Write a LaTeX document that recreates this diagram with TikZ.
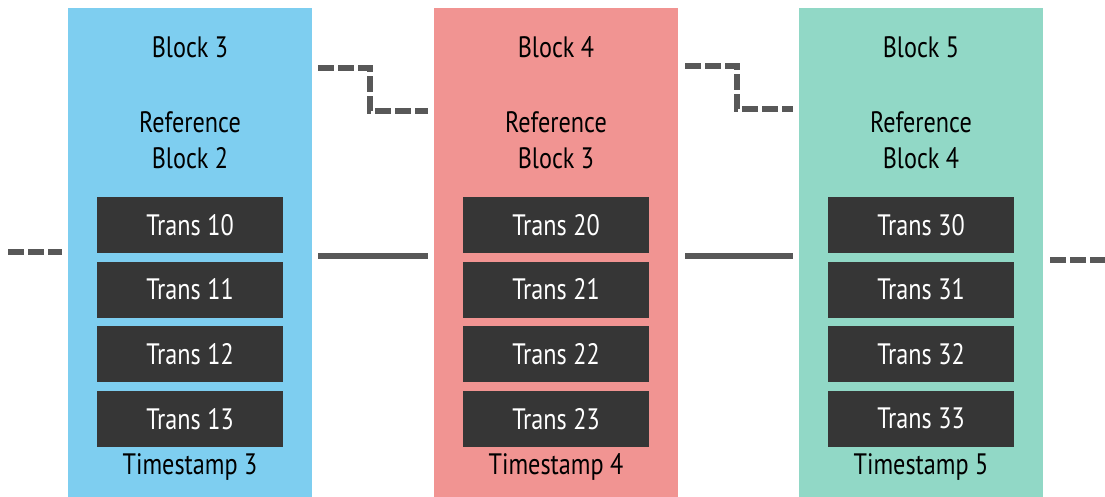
\documentclass[tikz,border=0pt]{standalone}
\usepackage{fontspec}
\setmainfont{PT Sans}[FakeStretch=0.82]
\usepackage{tikz}
\usetikzlibrary{arrows.meta, positioning}

\definecolor{chainblue}{RGB}{126,206,240}
\definecolor{chainred}{RGB}{241,148,146}
\definecolor{chaingreen}{RGB}{145,216,198}
\definecolor{txbox}{RGB}{54,54,54}
\definecolor{linkgrey}{RGB}{88,88,88}

\begin{document}
\begin{tikzpicture}[
        x=0.025cm, y=-0.025cm,
        node distance=0.2cm,
        every node/.style={font=\fontsize{21}{25.6}\selectfont},
        block/.style={rectangle, minimum width=6.1cm, minimum height=12.225cm, inner sep=0pt},
        tx/.style={rectangle, fill=txbox, text=white, minimum width=4.65cm, minimum height=1.4cm, inner sep=0pt},
        label/.style={align=center, inner sep=0pt},
        link/.style={draw=linkgrey, line width=0.15cm},
        dlink/.style={link, dash pattern=on 0.4cm off 0.1cm}
    ]
        \useasboundingbox (0,0) rectangle (1105,497);

        % the three blocks
        \node[block, fill=chainblue] (b3) at (190,252.5) {};
        \node[block, fill=chainred] (b4) at (556,252.5) {};
        \node[block, fill=chaingreen] (b5) at (921,252.5) {};

        % block 3
        \node[label] (b3name) at (190,47) {Block 3};
        \node[label] (b3ref) at (190,140) {Reference\\Block 2};
        \node[tx] (t10) at (190,225) {Trans 10};
        \node[tx, below=of t10] (t11) {Trans 11};
        \node[tx, below=of t11] (t12) {Trans 12};
        \node[tx, below=of t12] (t13) {Trans 13};
        \node[label] (b3time) at (190,467) {Timestamp 3};

        % block 4
        \node[label] (b4name) at (556,47) {Block 4};
        \node[label] (b4ref) at (556,140) {Reference\\Block 3};
        \node[tx] (t20) at (556,225) {Trans 20};
        \node[tx, below=of t20] (t21) {Trans 21};
        \node[tx, below=of t21] (t22) {Trans 22};
        \node[tx, below=of t22] (t23) {Trans 23};
        \node[label] (b4time) at (556,467) {Timestamp 4};

        % block 5
        \node[label] (b5name) at (921,47) {Block 5};
        \node[label] (b5ref) at (921,140) {Reference\\Block 4};
        \node[tx] (t30) at (921,225) {Trans 30};
        \node[tx, below=of t30] (t31) {Trans 31};
        \node[tx, below=of t31] (t32) {Trans 32};
        \node[tx, below=of t32] (t33) {Trans 33};
        \node[label] (b5time) at (921,467) {Timestamp 5};

        % chain links
        \coordinate (prev) at (8,252);
        \coordinate (next) at (1105,260);
        \coordinate (hi34) at (370,68);
        \coordinate (lo34) at (370,111);
        \coordinate (hi45) at (737,66);
        \coordinate (lo45) at (737,109);
        \coordinate (mid) at (0,256);

        \draw[dlink] (prev) -- ([xshift=-0.15cm]b3.west |- prev);
        \draw[link] ([xshift=0.15cm]b3.east |- mid) -- ([xshift=-0.15cm]b4.west |- mid);
        \draw[link] ([xshift=0.175cm]b4.east |- mid) -- ([xshift=-0.15cm]b5.west |- mid);
        \draw[dlink] ([xshift=0.175cm]b5.east |- next) -- (next);

        \draw[dlink] ([xshift=0.15cm]b3.east |- hi34) -- (hi34) -- (lo34) -- ([xshift=-0.15cm]b4.west |- lo34);
        \draw[dlink] ([xshift=0.175cm]b4.east |- hi45) -- (hi45) -- (lo45) -- ([xshift=-0.15cm]b5.west |- lo45);
    \end{tikzpicture}
\end{document}
